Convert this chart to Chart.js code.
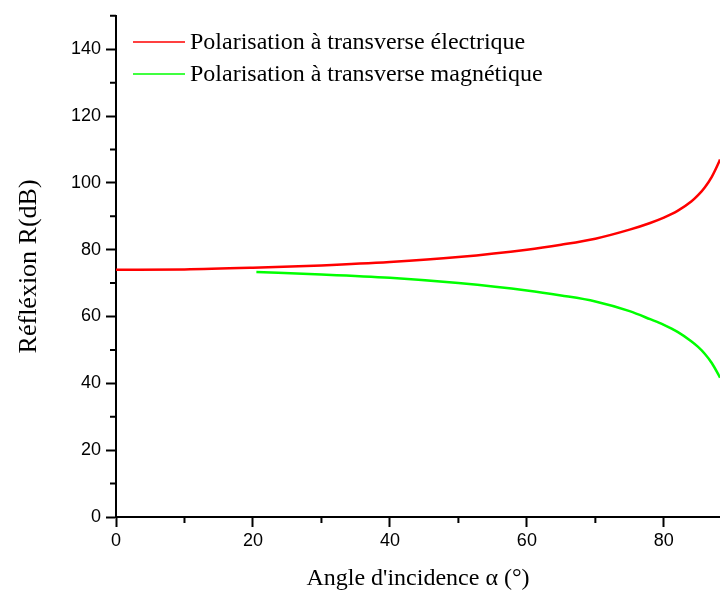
<!DOCTYPE html>
<html>
<head>
<meta charset="utf-8">
<script src="https://cdn.jsdelivr.net/npm/chart.js@4/dist/chart.umd.min.js"></script>
<style>
  body { margin: 0; background: #fff; }
</style>
</head>
<body>
<canvas id="chart" width="720" height="596"></canvas>
<script>
// ── Data ───────────────────────────────────────────────────────────────────
const angleTE = [0, 10, 20, 30, 40, 50, 60, 65, 70, 75, 78, 80, 82, 84, 85, 86, 87, 88, 88.2];
const reflTE  = [74.0, 74.1, 74.6, 75.3, 76.3, 77.8, 80.0, 81.5, 83.3, 86.0, 88.0, 89.6, 91.6, 94.4, 96.3, 98.7, 101.8, 106.0, 107.0];
const angleTM = [20.5, 30, 40, 50, 60, 65, 70, 75, 78, 80, 82, 84, 85, 86, 87, 88, 88.2];
const reflTM  = [73.3, 72.6, 71.6, 70.0, 67.8, 66.3, 64.5, 61.6, 59.2, 57.5, 55.4, 52.6, 50.9, 48.8, 46.1, 42.5, 41.7];
const labels  = ['Polarisation à transverse électrique', 'Polarisation à transverse magnétique'];

const pts = (xs, ys) => xs.map((x, i) => ({ x, y: ys[i] }));
const serif = 'Liberation Serif';
const sans = 'Liberation Sans';

// ── Minor ticks (short, every 10) + legend inside plot ────────────────────
const extras = {
  id: 'extras',
  afterDraw(chart) {
    const { ctx, chartArea: a, scales: { x, y } } = chart;
    ctx.save();
    ctx.strokeStyle = '#000';
    ctx.lineWidth = 2;
    ctx.beginPath();
    x.ticks.forEach(t => {
      if (t.value % 20 === 0) return;
      const px = x.getPixelForValue(t.value);
      ctx.moveTo(px, a.bottom); ctx.lineTo(px, a.bottom + 6);
    });
    y.ticks.forEach(t => {
      if (t.value % 20 === 0) return;
      const py = y.getPixelForValue(t.value);
      ctx.moveTo(a.left, py); ctx.lineTo(a.left - 6, py);
    });
    ctx.stroke();

    // legend
    ctx.font = '24px ' + serif;
    ctx.textBaseline = 'middle';
    ctx.fillStyle = '#000';
    chart.data.datasets.forEach((ds, i) => {
      const ly = 42 + i * 32;
      ctx.strokeStyle = ds.borderColor;
      ctx.lineWidth = 1.5;
      ctx.beginPath();
      ctx.moveTo(133, ly); ctx.lineTo(185, ly);
      ctx.stroke();
      ctx.fillText(ds.label, 190, ly + 1);
    });
    ctx.restore();
  }
};

new Chart(document.getElementById('chart'), {
  type: 'line',
  data: {
    datasets: [
      { label: labels[0], data: pts(angleTE, reflTE), borderColor: '#ff0000' },
      { label: labels[1], data: pts(angleTM, reflTM), borderColor: '#00ff00' }
    ]
  },
  options: {
    responsive: false,
    animation: false,
    layout: { padding: { top: 7, right: 0, left: 0, bottom: 0 } },
    elements: {
      line: { borderWidth: 2.5, cubicInterpolationMode: 'monotone', fill: false },
      point: { radius: 0 }
    },
    plugins: { legend: { display: false }, tooltip: { enabled: false } },
    scales: {
      x: {
        type: 'linear', min: 0, max: 88.2,
        afterFit: s => { s.height = 79; },
        border: { color: '#000', width: 2 },
        grid: {
          drawOnChartArea: false, tickLength: 10, tickWidth: 2,
          tickColor: c => (c.tick && c.tick.value % 20 === 0) ? '#000' : 'rgba(0,0,0,0)'
        },
        ticks: {
          stepSize: 10, includeBounds: false, padding: 3, color: '#000', maxRotation: 0,
          font: { family: sans, size: 18 },
          callback: v => v % 20 === 0 ? v : ''
        },
        title: {
          display: true, text: "Angle d'incidence α (°)", color: '#000',
          font: { family: serif, size: 24 }, padding: { top: 0, bottom: 3 }
        }
      },
      y: {
        type: 'linear', min: 0, max: 150,
        afterFit: s => { s.width = 116; },
        border: { color: '#000', width: 2 },
        grid: {
          drawOnChartArea: false, tickLength: 10, tickWidth: 2,
          tickColor: c => (c.tick && c.tick.value % 20 === 0) ? '#000' : 'rgba(0,0,0,0)'
        },
        ticks: {
          stepSize: 10, padding: 5, color: '#000',
          font: { family: sans, size: 18 },
          callback: v => v % 20 === 0 ? v : ''
        },
        title: {
          display: true, text: 'Réfléxion R(dB)', color: '#000',
          font: { family: serif, size: 26 }, padding: { top: 14, bottom: 0 }
        }
      }
    }
  },
  plugins: [extras]
});
</script>
</body>
</html>
